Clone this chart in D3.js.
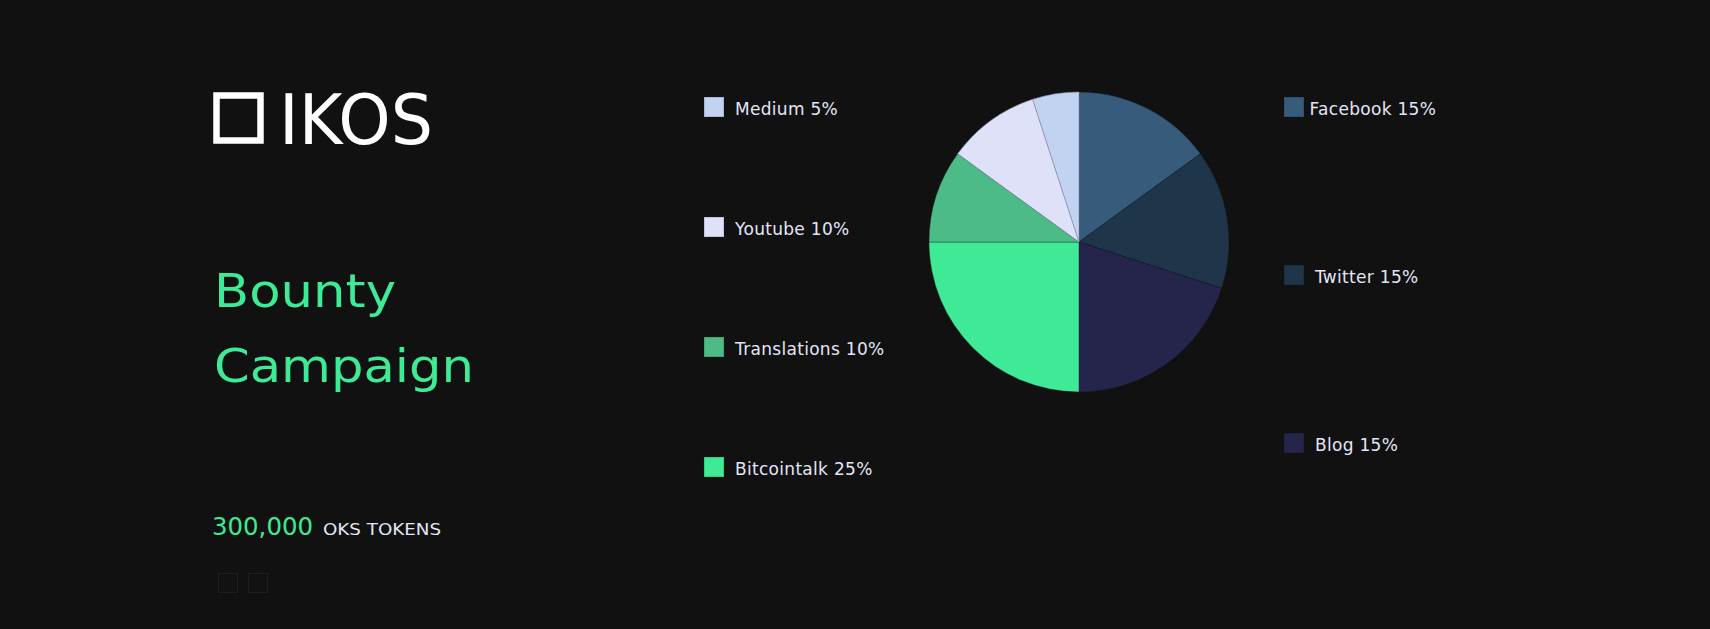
<!DOCTYPE html>
<html><head><meta charset="utf-8">
<script src="https://cdn.jsdelivr.net/npm/d3@7"></script>
<style>
html,body{margin:0;padding:0;background:#111111;overflow:hidden;}
svg{display:block;}
</style></head>
<body>
<svg id="chart" width="1710" height="629"></svg>
<script>
// ---- data ----
const categories = ["Facebook","Twitter","Blog","Bitcointalk","Translations","Youtube","Medium"];
const sliceValues = [15,15,20,25,10,10,5];          // slice sizes as drawn
const legendPercents = ["15%","15%","15%","25%","10%","10%","5%"]; // labels as printed
const colors = ["#365b7b","#1f3549","#25244a","#3eea96","#4cbb87","#dfe1f9","#c2d3f1"];
const leftLegend = ["Medium","Youtube","Translations","Bitcointalk"];
const rightLegend = ["Facebook","Twitter","Blog"];
const titleLines = ["Bounty","Campaign"];
const tokenAmount = "300,000";
const tokenUnit = "OKS TOKENS";

const svg = d3.select("#chart");
const font = "'DejaVu Sans', sans-serif";

// logo
const logo = svg.append("g");
logo.append("rect").attr("x",216.5).attr("y",95.5).attr("width",44).attr("height",45)
  .attr("fill","none").attr("stroke","#ffffff").attr("stroke-width",6.5);
logo.append("text").attr("x",279).attr("y",143.5).text("IKOS")
  .attr("fill","#ffffff").style("font-family","'DejaVu Sans Condensed','Liberation Sans Narrow',sans-serif")
  .style("font-size","70px").attr("textLength",154).attr("lengthAdjust","spacingAndGlyphs");

// title
const titleWidths = [182,260];
svg.selectAll("text.title").data(titleLines).join("text").attr("class","title")
  .attr("x",214).attr("y",(d,i)=>307+i*75).text(d=>d)
  .attr("fill","#3eea96").style("font-family",font).style("font-size","46px").style("font-weight","400")
  .attr("textLength",(d,i)=>titleWidths[i]).attr("lengthAdjust","spacingAndGlyphs");

// tokens
svg.append("text").attr("x",212).attr("y",535).text(tokenAmount)
  .attr("fill","#3eea96").style("font-family",font).style("font-size","24px")
  .attr("textLength",101).attr("lengthAdjust","spacingAndGlyphs");
svg.append("text").attr("x",323).attr("y",535).text(tokenUnit)
  .attr("fill","#e2e6f6").style("font-family",font).style("font-size","16px")
  .attr("textLength",118).attr("lengthAdjust","spacingAndGlyphs");

// small boxes
svg.selectAll("rect.box").data([0,1]).join("rect").attr("class","box")
  .attr("x",d=>218.5+d*30).attr("y",573.5).attr("width",19).attr("height",19)
  .attr("fill","#121212").attr("stroke","#1e1e1e").attr("stroke-width",1);

// pie
const cx = 1079, cy = 242, R = 150;
const pie = d3.pie().sort(null).value(d=>d)(sliceValues);
const arc = d3.arc().innerRadius(0).outerRadius(R);
svg.append("g").attr("transform",`translate(${cx},${cy})`)
  .selectAll("path").data(pie).join("path")
  .attr("d",arc).attr("fill",(d,i)=>colors[i])
  .attr("stroke",(d,i)=> i>=5 ? "#8a8fa8" : "rgba(20,20,30,0.6)")
  .attr("stroke-width",0.6);

// legends
const colorOf = c => colors[categories.indexOf(c)];
const labelOf = c => c + " " + legendPercents[categories.indexOf(c)];
const yLeft = d3.scalePoint().domain(leftLegend).range([107,467]);
const yRight = d3.scalePoint().domain(rightLegend).range([107,443]);

function drawLegend(items, yScale, sqX, txX){
  const g = svg.append("g").selectAll("g").data(items).join("g");
  g.append("rect").attr("x",sqX).attr("y",d=>yScale(d)-9.5).attr("width",19).attr("height",19)
    .attr("fill",d=>colorOf(d)).attr("stroke",d=>d3.color(colorOf(d)).darker(0.4)).attr("stroke-width",1);
  g.append("text").attr("x",(d,i)=> typeof txX==="function"? txX(d,i): txX).attr("y",d=>yScale(d)+7.5)
    .text(d=>labelOf(d)).attr("fill","#e3e6f6").style("font-family",font).style("font-size","17px")
    .style("letter-spacing","0.3px");
}
drawLegend(leftLegend, yLeft, 704.5, 735);
drawLegend(rightLegend, yRight, 1284.5, (d,i)=> i===0 ? 1309.5 : 1315);
</script>
</body></html>
